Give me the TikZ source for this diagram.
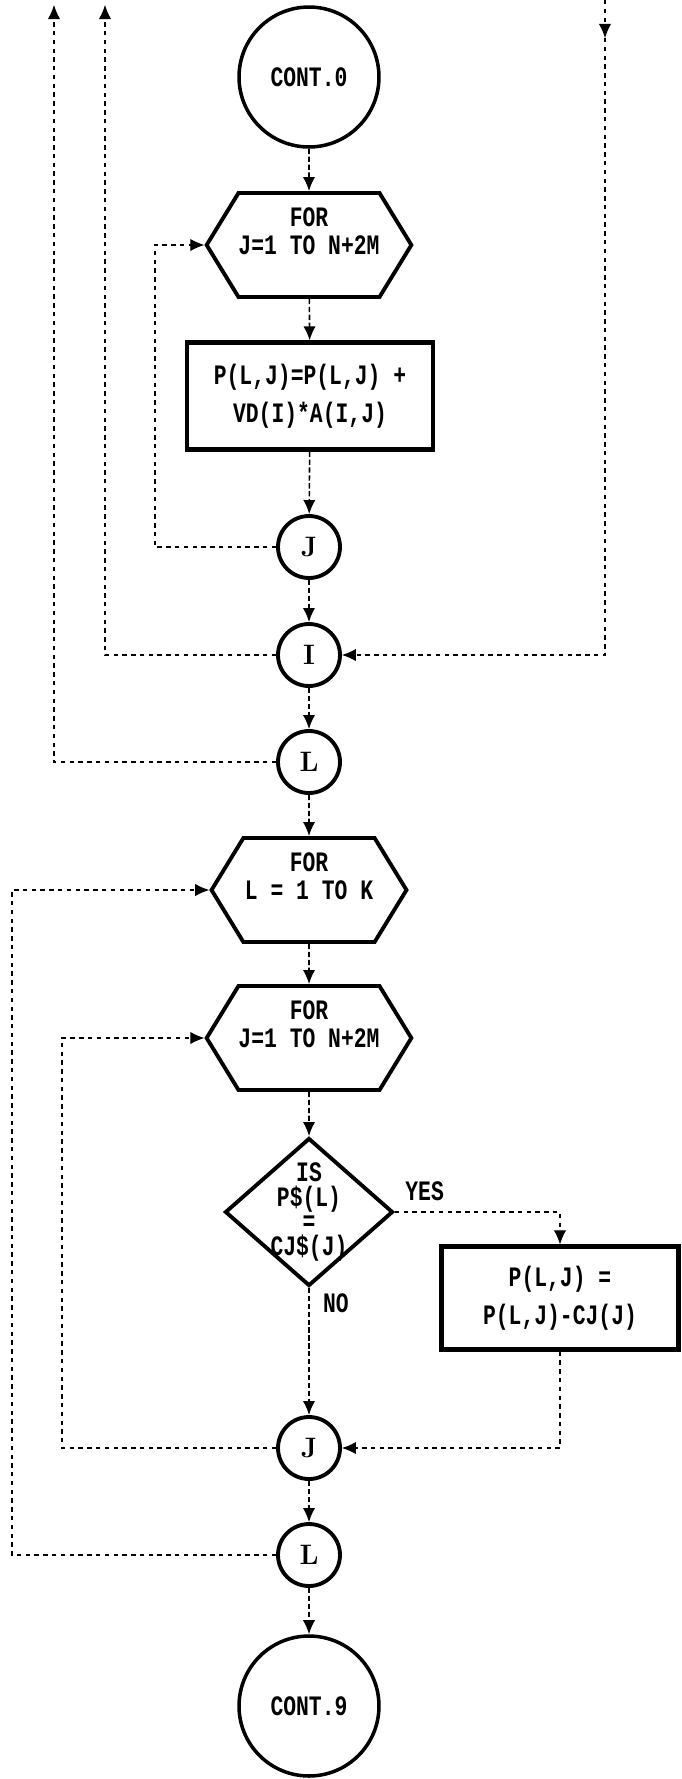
\documentclass[tikz,border=0pt]{standalone}
\usepackage{fontspec}
\newfontfamily\dotfont[FakeStretch=0.76]{Liberation Mono}
\usetikzlibrary{shapes.geometric,shapes.symbols,arrows.meta}

\tikzset{
  termbox/.style={circle, draw, line width=2pt, minimum size=2.8cm, inner sep=0pt,
    font=\dotfont\bfseries\fontsize{16}{16}\selectfont},
  joint/.style={circle, draw, line width=2.2pt, minimum size=1.24cm, inner sep=0pt,
    font=\bfseries\fontsize{16}{16}\selectfont},
  loopbox/.style={signal, signal to=west and east, signal pointer angle=117, draw,
    line width=2.2pt, minimum width=3.9cm, minimum height=2.08cm, inner sep=0pt,
    align=center, font=\dotfont\bfseries\fontsize{16}{16}\selectfont},
  procbox/.style={rectangle, draw, line width=2.4pt, inner sep=0pt, align=center,
    font=\dotfont\bfseries\fontsize{16}{21.5}\selectfont},
  testbox/.style={diamond, draw, line width=2.2pt, aspect=1.13, inner sep=-0.3cm,
    minimum width=3.36cm, minimum height=2.96cm, align=center,
    font=\dotfont\bfseries\fontsize{16}{14}\selectfont},
  conn/.style={line width=0.9pt, dash pattern=on 3pt off 1.5pt,
    -{Latex[length=8pt,width=7pt]}},
  back/.style={line width=0.6pt, dash pattern=on 2.5pt off 2.5pt},
  tag/.style={font=\dotfont\bfseries\fontsize{16}{16}\selectfont}
}

\begin{document}
\begin{tikzpicture}[x=0.02cm, y=-0.02cm]
  \useasboundingbox (0,0) rectangle (681,1779);

  % main column
  \node[termbox] (cont0) at (309,77) {CONT.0};
  \node[loopbox] (hexJa) at (309,245) {FOR\\J=1 TO N+2M\\\mbox{}};
  \node[procbox, minimum width=4.92cm, minimum height=2.14cm] (sumP) at (310,396)
    {P(L,J)=P(L,J) +\\VD(I)*A(I,J)};
  \node[joint] (endJa) at (309,547) {J};
  \node[joint] (endI) at (309,655) {I};
  \node[joint] (endLa) at (309,762) {L};
  \node[loopbox] (hexL) at (309,890) {FOR\\L = 1 TO K\\\mbox{}};
  \node[loopbox] (hexJb) at (309,1038) {FOR\\J=1 TO N+2M\\\mbox{}};
  \node[testbox] (test) at (309,1212) {IS\\P\$(L)\\=\\CJ\$(J)};
  \node[procbox, minimum width=4.74cm, minimum height=2.06cm] (subP) at (560,1298)
    {P(L,J) =\\P(L,J)-CJ(J)};
  \node[joint] (endJb) at (309,1448) {J};
  \node[joint] (endLb) at (309,1555) {L};
  \node[termbox] (cont9) at (309,1706) {CONT.9};

  % free ends and corners of the return lines
  \coordinate (upL) at (54,5);
  \coordinate (upI) at (105,5);
  \coordinate (rtop) at (605,0);
  \coordinate (rarr) at (605,38);
  \coordinate (cJa) at (155,245);
  \coordinate (cL) at (12,890);
  \coordinate (cJb) at (62,1038);

  \draw[conn] (cont0) -- (hexJa);
  \draw[conn] (hexJa) -- (sumP);
  \draw[conn] (sumP) -- (endJa);
  \draw[conn] (endJa) -- (endI);
  \draw[conn] (endI) -- (endLa);
  \draw[conn] (endLa) -- (hexL);
  \draw[conn] (hexL) -- (hexJb);
  \draw[conn] (hexJb) -- (test);
  \draw[conn] (test) -- node[tag, pos=0.12, right=0.15cm] {NO} (endJb);
  \draw[conn] (endJb) -- (endLb);
  \draw[conn] (endLb) -- (cont9);

  \draw[conn, back] (test.east) -| node[tag, pos=0.09, above=0.1cm] {YES} (subP.north);
  \draw[conn, back] (subP.south) |- (endJb.east);

  % loop returns
  \draw[conn, back] (endJa.west) -| (cJa) -- (hexJa.west);
  \draw[conn, back] (endI.west) -| (upI);
  \draw[conn, back] (endLa.west) -| (upL);
  \draw[conn, back] (rtop) -- (rarr);
  \draw[conn, back] (rarr) |- (endI.east);
  \draw[conn, back] (endLb.west) -| (cL) -- (hexL.west);
  \draw[conn, back] (endJb.west) -| (cJb) -- (hexJb.west);
\end{tikzpicture}
\end{document}
